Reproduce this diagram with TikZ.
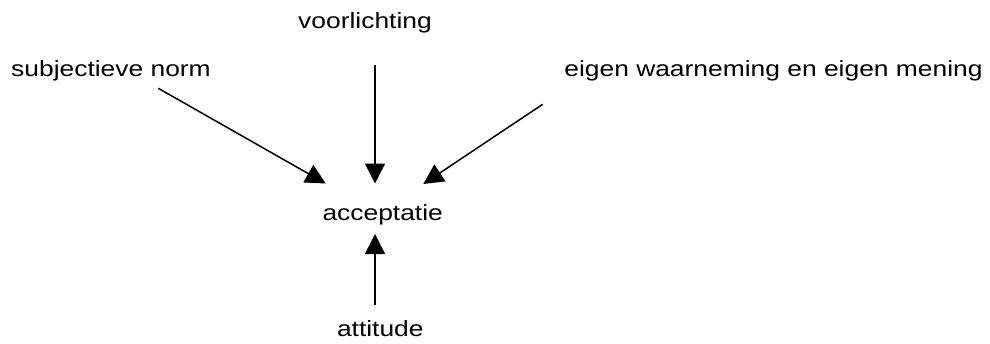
\documentclass[tikz,border=0pt]{standalone}
\usepackage{fontspec}
\setmainfont{Liberation Sans}
\usepackage{graphicx}
\usetikzlibrary{arrows.meta}
\tikzset{
  lbl/.style={inner sep=0pt, anchor=base, font=\fontsize{22}{26}\selectfont},
  conn/.style={line width=1.5pt, -{Triangle[length=20pt,width=20pt]}}
}
\newcommand{\wide}[1]{\scalebox{1.2}[1]{#1}}
\begin{document}
\begin{tikzpicture}[x=1pt,y=-1pt]
\useasboundingbox (0,0) rectangle (990,343);
\node[lbl] (vl) at (365,28) {\wide{voorlichting}};
\node[lbl] (sn) at (111,76) {\wide{subjectieve norm}};
\node[lbl] (ew) at (773.5,76) {\wide{eigen waarneming en eigen mening}};
\node[lbl] (ac) at (382.7,220) {\wide{acceptatie}};
\node[lbl] (at) at (380.3,336.7) {\wide{attitude}};
\coordinate (vlS) at (375,65);
\coordinate (vlT) at (375,183.5);
\coordinate (snS) at (158.3,88.3);
\coordinate (snT) at (325.7,183.5);
\coordinate (ewS) at (542.7,104.3);
\coordinate (ewT) at (423.3,184);
\coordinate (atS) at (375,305);
\coordinate (atT) at (375,234);
\draw[conn] (vlS) -- (vlT);
\draw[conn] (snS) -- (snT);
\draw[conn] (ewS) -- (ewT);
\draw[conn] (atS) -- (atT);
\end{tikzpicture}
\end{document}
